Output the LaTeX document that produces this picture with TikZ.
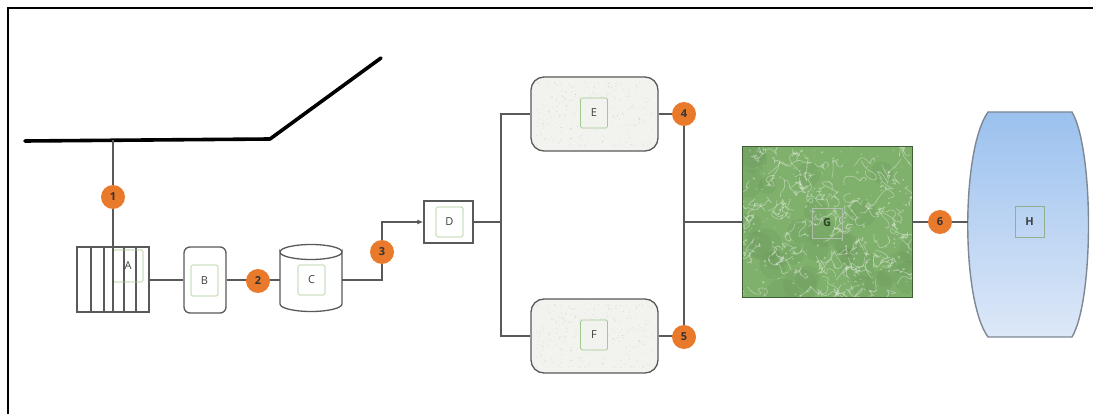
\documentclass[tikz,border=0pt]{standalone}
\usepackage{fontspec}
\setmainfont{Open Sans}
\usetikzlibrary{arrows.meta}

\definecolor{wire}{HTML}{595959}
\definecolor{badgeorange}{HTML}{E97A2C}
\definecolor{leaf}{HTML}{A3C98C}
\definecolor{labelgray}{HTML}{404040}
\definecolor{stone}{HTML}{F2F2EF}
\definecolor{moss}{HTML}{7FB06C}
\definecolor{mossdark}{HTML}{3F5F35}
\definecolor{skytop}{HTML}{9BC1EE}
\definecolor{skybottom}{HTML}{DDE8F8}
\definecolor{tankedge}{HTML}{7D8894}

\tikzset{
  wireline/.style={draw=wire, line width=1.3pt},
  unit/.style={draw=wire, line width=1.3pt, inner sep=0pt},
  tag/.style={draw=leaf, line width=0.7pt, inner sep=0pt, rounded corners=1.5pt,
    font=\fontsize{11}{11}\selectfont, text=labelgray},
  badge/.style={circle, fill=badgeorange, minimum size=24pt, inner sep=0pt,
    font=\fontsize{11}{11}\selectfont\bfseries, text=black!80},
  roofline/.style={line width=3.6pt, line cap=round, line join=round},
}

\begin{document}
\begin{tikzpicture}[x=1pt,y=-1pt]
\useasboundingbox (0,0) rectangle (1093,414);

% outer frame
\draw[line width=2.6pt] (8,414) -- (8,8) -- (1093,8);

% roof line
\coordinate (r0) at (25,141);
\coordinate (r1) at (113,140.5);
\coordinate (rk) at (270,139);
\coordinate (r2) at (381,58);
\draw[roofline] (r0) -- (rk) -- (r2);

% positions of the numbered markers
\coordinate (p1) at (113,197);
\coordinate (p2) at (258,281);
\coordinate (p3) at (382,252);
\coordinate (p4) at (684,114);
\coordinate (p5) at (684,337);
\coordinate (p6) at (940,222);

% A: striped unit
\node[unit, fill=white, minimum width=72pt, minimum height=65pt] (A) at (113,279.5) {};
\foreach \x in {91,104,124,136}
  \draw[wireline] (\x,247) -- (\x,312);
\node[tag, minimum width=30pt, minimum height=32pt] (tA) at (128,266) {A};
\draw[wireline] (r1) -- (A.south);

% B
\node[unit, fill=white, rounded corners=6pt, minimum width=42pt, minimum height=66pt] (B) at (205,280) {};
\node[tag, minimum width=27pt, minimum height=31pt] (tB) at (204.5,280.5) {B};

% C: cylinder
\node[minimum width=62pt, minimum height=67pt, inner sep=0pt] (C) at (311,280) {};
\draw[wireline, fill=white] (280,252) -- (280,304) arc[start angle=180, end angle=360, x radius=31pt, y radius=7.5pt]
  -- (342,252) arc[start angle=0, end angle=-180, x radius=31pt, y radius=7.5pt] -- cycle;
\draw[wireline] (280,252) arc[start angle=180, end angle=0, x radius=31pt, y radius=7.5pt];
\node[tag, minimum width=27pt, minimum height=30pt] (tC) at (311.5,280) {C};

% D
\node[unit, fill=white, minimum width=49pt, minimum height=42pt] (D) at (448.5,222) {};
\node[tag, minimum width=27pt, minimum height=30pt] (tD) at (449.5,222) {D};

% E and F: speckled stone units
\foreach \n/\y in {E/114,F/336}{
  \node[unit, fill=stone, rounded corners=13pt, minimum width=127pt, minimum height=74pt] (\n) at (594.5,\y) {};
  \begin{scope}
    \pgfmathsetseed{11}
    \foreach \i in {1,...,260}
      \fill[black!45, opacity=0.3] ({536+117*rnd},{\y-32+64*rnd}) circle (0.45pt);
  \end{scope}
  \node[tag, fill=stone, minimum width=27pt, minimum height=30pt] (t\n) at (594,\y-1) {\n};
}

% G: marbled green block
\node[minimum width=169pt, minimum height=151pt, inner sep=0pt, fill=moss] (G) at (827.5,222) {};
\begin{scope}
  \clip (G.south west) rectangle (G.north east);
  \pgfmathsetseed{5}
  \foreach \i in {1,...,30}
    \fill[mossdark, opacity=0.07] ({743+169*rnd},{147+151*rnd}) circle ({8+10*rnd});
  \foreach \i in {1,...,110}
    \draw[white, opacity=0.4, line width=0.6pt, rounded corners=3pt]
      ({743+169*rnd},{147+151*rnd}) -- ++({8*rand},{8*rand}) -- ++({8*rand},{8*rand})
      -- ++({8*rand},{8*rand}) -- ++({8*rand},{8*rand}) -- ++({8*rand},{8*rand})
      -- ++({8*rand},{8*rand}) -- ++({8*rand},{8*rand});
  \foreach \i in {1,...,200}
    \fill[white, opacity=0.35] ({743+169*rnd},{147+151*rnd}) circle ({0.4+1.0*rnd});
\end{scope}
\draw[draw=mossdark, line width=1pt] (G.south west) rectangle (G.north east);
\node[draw=mossdark!40, line width=0.4pt, inner sep=0pt, minimum width=30pt, minimum height=30pt,
  font=\fontsize{11}{11}\selectfont\bfseries, text=mossdark!70!black] (tG) at (827,223) {G};

% H: barrel tank
\node[minimum width=122pt, minimum height=225pt, inner sep=0pt] (H) at (1029,224.5) {};
\shade[top color=skytop, bottom color=skybottom, draw=tankedge, line width=1.4pt]
  (988,112) -- (1072,112) .. controls (1094,150) and (1094,300) .. (1072,337)
  -- (988,337) .. controls (961,300) and (961,150) .. cycle;
\node[draw=leaf!60!tankedge, line width=0.7pt, inner sep=0pt, minimum width=29pt, minimum height=31pt,
  font=\fontsize{11}{11}\selectfont\bfseries, text=labelgray] (tH) at (1029.5,221.5) {H};

% connectors
\coordinate (s1) at (501,222);
\coordinate (s2) at (684,222);
\draw[wireline] (B.west -| A.east) -- (B.west);
\draw[wireline] (B.east) -- (B.east -| C.west);
\draw[wireline, -{Latex[length=6pt,width=5pt]}] (C.east) -| (p3) |- (D.west);
\draw[wireline] (D.east) -- (s1);
\draw[wireline] (s1) |- (E.west);
\draw[wireline] (s1) |- (F.west);
\draw[wireline] (E.east) -- (E.east -| p4);
\draw[wireline] (F.east) -- (F.east -| p5);
\draw[wireline] (p4) -- (p5);
\draw[wireline] (s2) -- (G.west);
\draw[wireline] (G.east) -- (G.east -| H.west);

% numbered markers
\node[badge] (b1) at (p1) {1};
\node[badge] (b2) at (p2) {2};
\node[badge] (b3) at (p3) {3};
\node[badge] (b4) at (p4) {4};
\node[badge] (b5) at (p5) {5};
\node[badge] (b6) at (p6) {6};
\end{tikzpicture}
\end{document}
